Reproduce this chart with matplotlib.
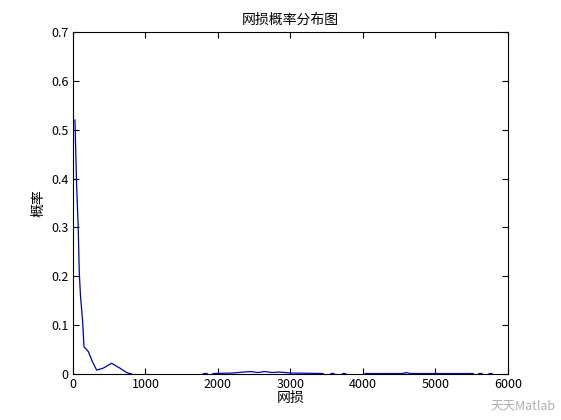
import numpy as np
import matplotlib
matplotlib.use("Agg")
import matplotlib.pyplot as plt

plt.rcParams['font.family'] = ['Noto Sans CJK SC', 'DejaVu Sans']

# loss values (x) and probability (y); NaN marks gaps in the curve
loss = [28, 50, 73, 87, 105, 133, 152, 212, 270, 327, 418, 533, 648, 740, 810,
        np.nan, 1800, 1850, np.nan, 1930, 2200, 2350, 2450, 2550, 2650, 2750, 2850, 3000, 3450,
        np.nan, 3560, 3600, np.nan, 3720, 3760, np.nan, 4030, 4550, 4600, 4650, 4700, 5520,
        np.nan, 5600, 5640, np.nan, 5740, 5780]
prob = [0.52, 0.39, 0.30, 0.21, 0.158, 0.11, 0.056, 0.046, 0.025, 0.008, 0.012, 0.022, 0.012, 0.003, 0.0,
        np.nan, 0.001, 0.001, np.nan, 0.001, 0.002, 0.004, 0.005, 0.003, 0.005, 0.003, 0.004, 0.002, 0.001,
        np.nan, 0.001, 0.001, np.nan, 0.001, 0.001, np.nan, 0.001, 0.001, 0.003, 0.001, 0.001, 0.001,
        np.nan, 0.001, 0.001, np.nan, 0.001, 0.001]

fig = plt.figure(figsize=(5.61, 4.2), dpi=100)
ax = fig.add_axes([0.13, 0.1095, 0.7755, 0.8143])
ax.plot(loss, prob, color='#0000b0', linewidth=0.9)

ax.set_xlim(0, 6000)
ax.set_ylim(0, 0.7)
ax.set_xticks([0, 1000, 2000, 3000, 4000, 5000, 6000])
ax.set_yticks(np.arange(0, 0.71, 0.1))
ax.set_yticklabels(['0', '0.1', '0.2', '0.3', '0.4', '0.5', '0.6', '0.7'])
ax.tick_params(direction='in', top=True, right=True, labelsize=9, length=4, width=0.8, pad=3)
for s in ax.spines.values():
    s.set_linewidth(0.8)

ax.set_title('网损概率分布图', fontsize=10, pad=6)
ax.set_xlabel('网损', fontsize=10, labelpad=0)
ax.set_ylabel('概率', fontsize=10, labelpad=4)

fig.text(0.99, 0.035, '天天Matlab', fontsize=9, color='#b0b0b0', ha='right', va='center')

fig.savefig('out.png', dpi=100)
